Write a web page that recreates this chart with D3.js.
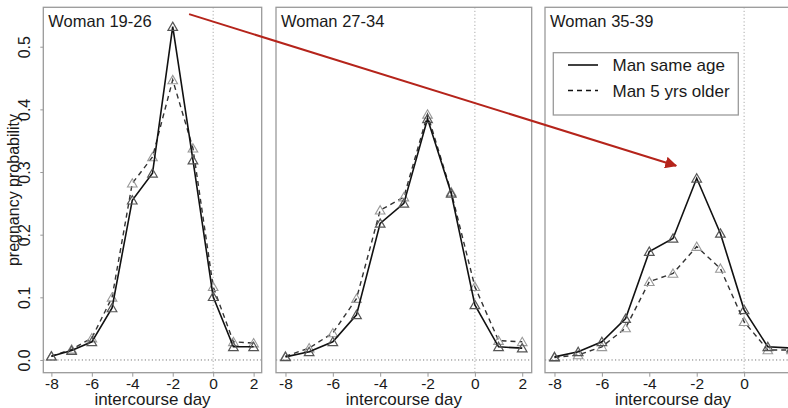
<!DOCTYPE html>
<html>
<head>
<meta charset="utf-8">
<script src="https://cdn.jsdelivr.net/npm/d3@7"></script>
<style>
html,body{margin:0;padding:0;background:#fff;}
svg{display:block;font-family:"Liberation Sans",Arial,Helvetica,sans-serif;}
</style>
</head>
<body>
<svg id="chart" width="788" height="408"></svg>
<script>
// ---- data ----
const days = [-8,-7,-6,-5,-4,-3,-2,-1,0,1,2];
const panelTitles = ["Woman 19-26","Woman 27-34","Woman 35-39"];
const seriesNames = ["Man same age","Man 5 yrs older"];
const sameAge1 = [0.006,0.015,0.029,0.083,0.255,0.298,0.532,0.319,0.101,0.021,0.021];
const older1   = [0.006,0.017,0.035,0.100,0.282,0.324,0.447,0.338,0.117,0.029,0.027];
const sameAge2 = [0.005,0.013,0.029,0.072,0.218,0.250,0.385,0.266,0.088,0.021,0.019];
const older2   = [0.006,0.019,0.043,0.098,0.239,0.260,0.392,0.268,0.117,0.031,0.029];
const sameAge3 = [0.005,0.013,0.029,0.066,0.173,0.194,0.290,0.202,0.080,0.021,0.019];
const older3   = [0.004,0.008,0.021,0.051,0.125,0.138,0.181,0.146,0.061,0.016,0.016];
const xTicks = [-8,-6,-4,-2,0,2];
const yTicks = [0.0,0.1,0.2,0.3,0.4,0.5];
const xLabel = "intercourse day";
const yLabel = "pregnancy probability";
// arrow annotation: from panel 1 (day, prob) to panel 3 (day, prob)
const arrowFrom = [-1.19, 0.552];
const arrowTo = [-2.87, 0.31];

const sameAge = [sameAge1, sameAge2, sameAge3];
const older = [older1, older2, older3];

// ---- layout ----
const svg = d3.select("#chart");
const boxTop = 7.3, boxBottom = 372.7;
const panelX = [[43.3,261.7],[276,531.7],[545,801]];
const y = d3.scaleLinear().domain([-0.0203,0.5629]).range([boxBottom, boxTop]);
const boxColor = "#9a9a9a";
const textColor = "#1a1a1a";

const xScales = [];
panelTitles.forEach((title, i) => {
  const [x0, x1] = panelX[i];
  const x = d3.scaleLinear().domain([-8.4, 2.4]).range([x0, x1]);
  xScales.push(x);
  const g = svg.append("g");

  // reference lines
  g.append("line").attr("x1", x0).attr("x2", x1).attr("y1", y(0)).attr("y2", y(0))
    .attr("stroke", "#777").attr("stroke-width", 1).attr("stroke-dasharray", "1.2,2.3");
  g.append("line").attr("x1", x(0)).attr("x2", x(0)).attr("y1", boxTop).attr("y2", boxBottom)
    .attr("stroke", "#aaa").attr("stroke-width", 1).attr("stroke-dasharray", "1.2,2.3");

  // box
  g.append("rect").attr("x", x0).attr("y", boxTop).attr("width", x1 - x0).attr("height", boxBottom - boxTop)
    .attr("fill", "none").attr("stroke", boxColor).attr("stroke-width", 1.3);

  // x axis
  const xa = g.append("g").attr("transform", `translate(0,${boxBottom})`)
    .call(d3.axisBottom(x).tickValues(xTicks).tickSize(4).tickPadding(1).tickFormat(d3.format("d")));
  xa.select(".domain").remove();
  xa.selectAll(".tick line").attr("stroke", boxColor);
  xa.selectAll(".tick text").attr("fill", textColor).attr("font-size", 15.5)
    .attr("font-family", "Liberation Sans, Arial, sans-serif")
    .text(d => d < 0 ? "-" + Math.abs(d) : d);
  g.append("text").attr("x", (x(-8) + x(2)) / 2).attr("y", 404.5)
    .attr("text-anchor", "middle").attr("font-size", 17).attr("fill", textColor).text(xLabel);

  // title
  g.append("text").attr("x", x0 + 5).attr("y", 27).attr("font-size", 16.5).attr("fill", textColor).text(title);

  // lines
  const line = d3.line().x((d, j) => x(days[j])).y(d => y(d));
  const tri = d3.symbol(d3.symbolTriangle, 40);

  // dashed series
  g.append("path").datum(older[i]).attr("d", line).attr("fill", "none")
    .attr("stroke", "#333").attr("stroke-width", 1.4).attr("stroke-dasharray", "5,4");
  g.selectAll(".tO").data(older[i]).enter().append("path")
    .attr("transform", (d, j) => `translate(${x(days[j])},${y(d) + 1})`)
    .attr("d", tri).attr("fill", "none").attr("stroke", "#999").attr("stroke-width", 1.1);

  // solid series
  g.append("path").datum(sameAge[i]).attr("d", line).attr("fill", "none")
    .attr("stroke", "#111").attr("stroke-width", 1.6);
  g.selectAll(".tS").data(sameAge[i]).enter().append("path")
    .attr("transform", (d, j) => `translate(${x(days[j])},${y(d) + 1})`)
    .attr("d", tri).attr("fill", "none").attr("stroke", "#555").attr("stroke-width", 1.2);
});

// y axis on panel 1
const ya = svg.append("g").attr("transform", `translate(${panelX[0][0]},0)`)
  .call(d3.axisLeft(y).tickValues(yTicks).tickSize(3).tickFormat(d3.format(".1f")));
ya.select(".domain").remove();
ya.selectAll(".tick line").attr("stroke", boxColor);
ya.selectAll(".tick text").remove();
ya.selectAll(".tick").append("text")
  .attr("transform", "translate(-13,0) rotate(-90)")
  .attr("text-anchor", "middle").attr("font-size", 16).attr("fill", textColor)
  .attr("font-family", "Liberation Sans, Arial, sans-serif")
  .text(d => d3.format(".1f")(d));
svg.append("text").attr("transform", `translate(19,${(boxTop + boxBottom) / 2}) rotate(-90)`)
  .attr("text-anchor", "middle").attr("font-size", 16).attr("fill", textColor).text(yLabel);

// legend in panel 3
const lg = svg.append("g");
lg.append("rect").attr("x", 553.3).attr("y", 52.7).attr("width", 185).attr("height", 62.3)
  .attr("fill", "#fff").attr("stroke", boxColor).attr("stroke-width", 1.3);
const legY = [65, 90.5];
seriesNames.forEach((name, k) => {
  lg.append("line").attr("x1", 568).attr("x2", 598).attr("y1", legY[k]).attr("y2", legY[k])
    .attr("stroke", "#111").attr("stroke-width", k === 0 ? 1.6 : 1.4)
    .attr("stroke-dasharray", k === 0 ? null : "5,4");
  lg.append("text").attr("x", 612.5).attr("y", legY[k] + 6).attr("font-size", 17)
    .attr("fill", textColor).text(name);
});

// arrow
const defs = svg.append("defs");
defs.append("marker").attr("id", "ah").attr("viewBox", "0 0 10 10").attr("refX", 9).attr("refY", 5)
  .attr("markerWidth", 6).attr("markerHeight", 6).attr("orient", "auto").attr("markerUnits", "strokeWidth")
  .append("path").attr("d", "M0,0 L10,5 L0,10 z").attr("fill", "#b5241b");
svg.append("line")
  .attr("x1", xScales[0](arrowFrom[0])).attr("y1", y(arrowFrom[1]))
  .attr("x2", xScales[2](arrowTo[0])).attr("y2", y(arrowTo[1]))
  .attr("stroke", "#b5241b").attr("stroke-width", 2).attr("marker-end", "url(#ah)");
</script>
</body>
</html>
